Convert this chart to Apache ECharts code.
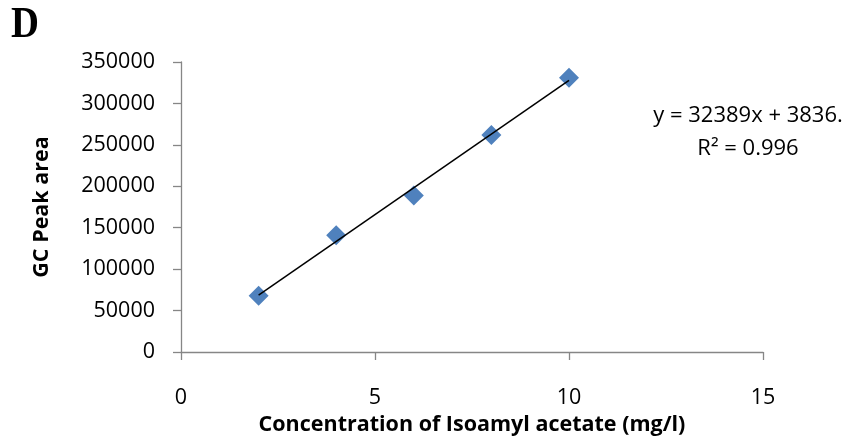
<!DOCTYPE html>
<html><head><meta charset="utf-8">
<script src="https://cdn.jsdelivr.net/npm/echarts@6/dist/echarts.min.js"></script>
<style>html,body{margin:0;padding:0;background:#fff}#c{width:852px;height:441px}</style>
</head><body><div id="c"></div>
<script>
const concentrations = [2, 4, 6, 8, 10];
const peakAreas = [68000, 141000, 189000, 262000, 331000];
const trendSlope = 32389;
const trendIntercept = 3836;
const trendRange = [2, 10];
const equationLines = ['y = 32389x + 3836.', 'R² = 0.996'];
const panelLabel = 'D';
const xTitle = 'Concentration of Isoamyl acetate (mg/l)';
const yTitle = 'GC Peak area';

const pts = concentrations.map((x, i) => [x, peakAreas[i]]);
const trend = trendRange.map(x => [x, trendSlope * x + trendIntercept]);
const font = '"Open Sans", "Noto Sans", sans-serif';
const axisColor = '#868686';

const chart = echarts.init(document.getElementById('c'), null, {renderer: 'canvas'});
chart.setOption({
  animation: false,
  grid: {left: 181, right: 89, top: 62, bottom: 88},
  graphic: [
    {type: 'text', x: 11, y: 26, scaleX: 0.88, style: {text: panelLabel, font: 'bold 44px "Liberation Serif", serif', fill: '#000', verticalAlign: 'middle'}},
    {type: 'text', x: 748, y: 116, style: {text: equationLines[0], font: '22px ' + font, fill: '#000', align: 'center', verticalAlign: 'middle'}},
    {type: 'text', x: 748, y: 149, style: {text: equationLines[1], font: '22px ' + font, fill: '#000', align: 'center', verticalAlign: 'middle'}}
  ],
  xAxis: {
    type: 'value', min: 0, max: 15, interval: 5,
    name: xTitle, nameLocation: 'middle', nameGap: 62,
    nameTextStyle: {fontFamily: font, fontWeight: 'bold', fontSize: 21.5, color: '#000'},
    axisLine: {show: true, lineStyle: {color: axisColor, width: 1.3}},
    axisTick: {show: true, length: 8, lineStyle: {color: axisColor, width: 1.3}},
    axisLabel: {fontFamily: font, fontSize: 21.5, color: '#000', margin: 35},
    splitLine: {show: false}
  },
  yAxis: {
    type: 'value', min: 0, max: 350000, interval: 50000,
    name: yTitle, nameLocation: 'middle', nameGap: 128, nameRotate: 90,
    nameTextStyle: {fontFamily: font, fontWeight: 'bold', fontSize: 21.5, color: '#000'},
    axisLine: {show: true, onZero: false, lineStyle: {color: axisColor, width: 1.3}},
    axisTick: {show: true, length: 8, lineStyle: {color: axisColor, width: 1.3}},
    axisLabel: {fontFamily: font, fontSize: 21.5, color: '#000', margin: 26, formatter: v => String(v)},
    splitLine: {show: false}
  },
  series: [
    {type: 'line', data: trend, symbol: 'none', lineStyle: {color: '#000', width: 1.5}, z: 3},
    {type: 'scatter', data: pts, symbol: 'diamond', symbolSize: [20, 20], itemStyle: {color: '#4F81BD', opacity: 1}, z: 2}
  ]
});
</script></body></html>
